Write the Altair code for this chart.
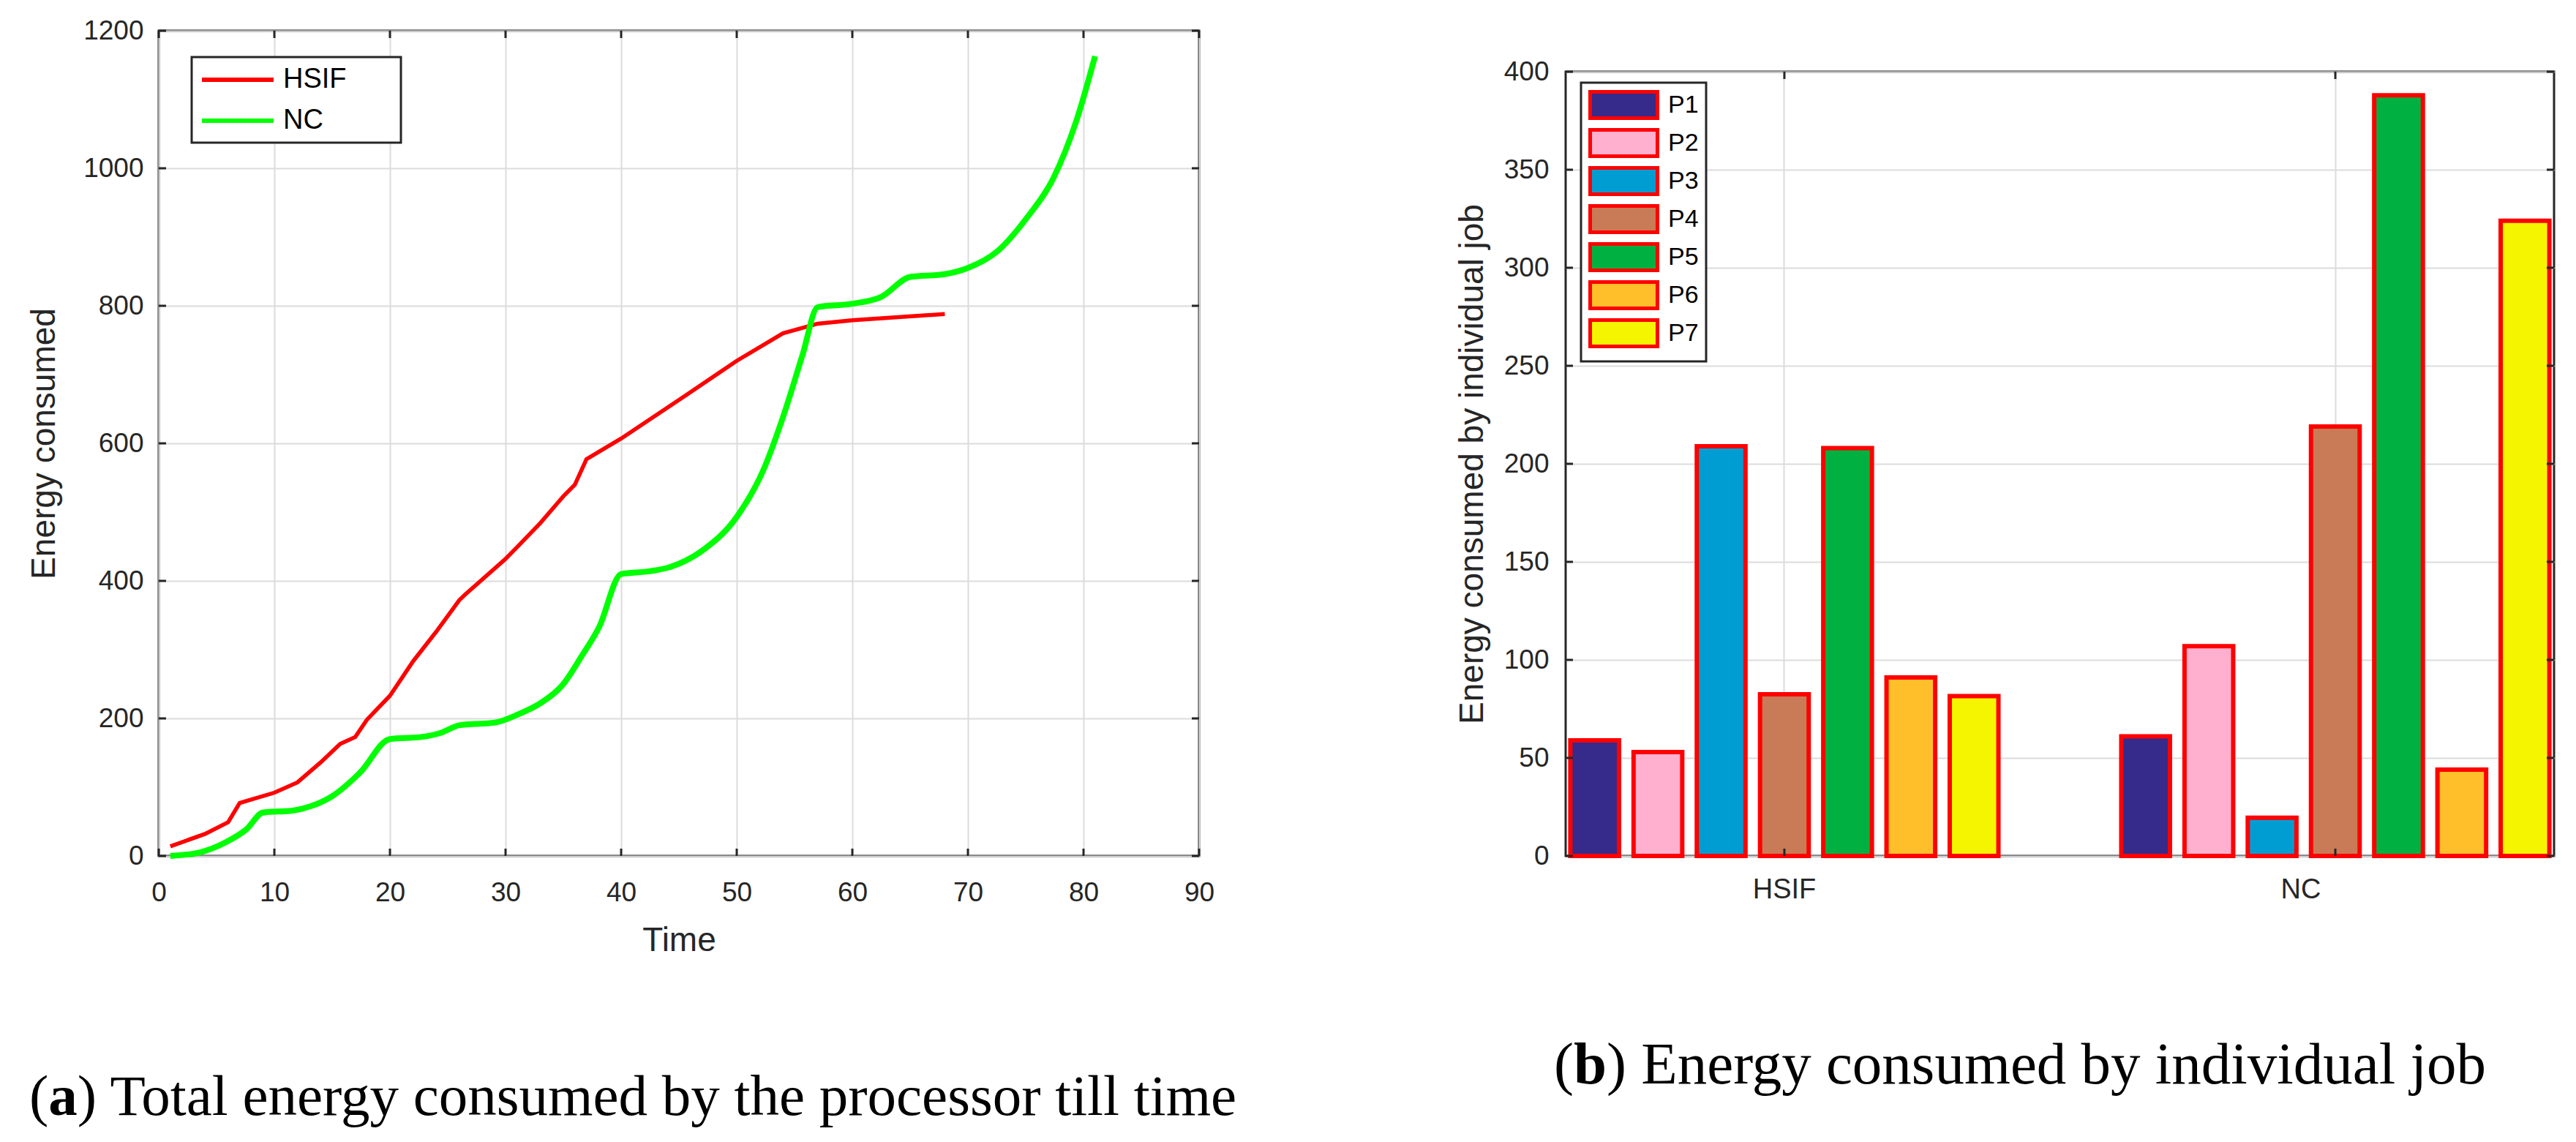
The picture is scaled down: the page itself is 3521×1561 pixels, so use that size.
import altair as alt
import pandas as pd

# ---------------- Panel (a): total energy consumed till time ----------------
series_names = ["HSIF", "NC"]
series_colors = ["#FF0000", "#00FF00"]

hsif_t = [1, 4, 6, 7, 10, 12, 14, 15.7, 17, 18, 20, 22, 24, 26, 26.5, 30, 31, 33, 35, 36, 37,
          40, 45.7, 50, 54, 57, 60, 68]
hsif_e = [14, 32, 49, 77, 92, 107, 136, 163, 173, 198, 233, 283, 326, 372, 380, 432, 449, 484,
          523, 540, 577, 607, 671, 720, 760, 774, 779, 788]

nc_t = [1, 3.5, 5.8, 7.6, 9, 11.6, 13.1, 15.1, 17.4, 20, 22.7, 24.4, 26, 29.1, 31.1, 33.1, 34.9,
        36.6, 38.1, 40, 42.4, 44.2, 47.1, 50, 52.3, 54, 55.7, 57, 60, 62.5, 65, 68, 70, 72.6,
        75.1, 77.4, 79.4, 81]
nc_e = [0, 5, 20, 39, 63, 66, 72, 88, 121, 170, 173, 179, 190, 194, 206, 223, 248, 291, 333, 410,
        414, 420, 445, 493, 561, 638, 729, 798, 803, 813, 842, 846, 855, 880, 928, 986, 1070, 1163]

x_ticks_a = list(range(0, 91, 10))
y_ticks_a = list(range(0, 1201, 200))

caption_a = ") Total energy consumed by the processor till time"

# ---------------- Panel (b): energy consumed by individual job ----------------
schemes = ["HSIF", "NC"]
jobs = ["P1", "P2", "P3", "P4", "P5", "P6", "P7"]
hsif_jobs = [59, 53, 209, 82.5, 208, 91, 81.5]
nc_jobs = [61, 107, 19.5, 219, 388, 44, 324]
job_colors = ["#362A8B", "#FFB0CF", "#009DD3", "#C87B56", "#00B040", "#FFBF2B", "#F5F500"]
y_ticks_b = list(range(0, 401, 50))

caption_b = ") Energy consumed by individual job"

# ---------------- styling ----------------
AX = "#262626"
GRID = "#DCDCDC"
SANS = "Liberation Sans"
SERIF = "Liberation Serif"
W_A, H_A = 1422, 1128
W_B, H_B = 1351, 1072
TICK = 10


def note(text, x, y, size, weight="normal", color="black", font=SERIF,
         align="left", baseline="alphabetic"):
    return alt.Chart(pd.DataFrame({"txt": [text]})).mark_text(
        font=font, fontSize=size, fontWeight=weight, color=color,
        align=align, baseline=baseline,
    ).encode(text="txt:N", x=alt.value(x), y=alt.value(y))


# ---------- panel (a) ----------
hsif_df = pd.DataFrame({"series": ["HSIF"] * len(hsif_t), "t": hsif_t, "e": hsif_e})
nc_df = pd.DataFrame({"series": ["NC"] * len(nc_t), "t": nc_t, "e": nc_e})

xa = alt.X("t:Q", scale=alt.Scale(domain=[0, 90], nice=False, zero=False),
           axis=alt.Axis(values=x_ticks_a, title="Time", grid=True, labelFontSize=37,
                         titleFontSize=46, labelPadding=32, titlePadding=25, format="d"))
ya = alt.Y("e:Q", scale=alt.Scale(domain=[0, 1200], nice=False),
           axis=alt.Axis(values=y_ticks_a, title="Energy consumed", grid=True, format="d",
                         labelFontSize=37, titleFontSize=46, labelPadding=21,
                         titlePadding=29))
# the white, right-hand legend title only widens the legend box as in the reference
color_a = alt.Color(
    "series:N", scale=alt.Scale(domain=series_names, range=series_colors),
    legend=alt.Legend(orient="none", legendX=45, legendY=36, title="MM",
                      titleOrient="right", titleColor="white", titleFontSize=34,
                      titlePadding=6, titleFont=SANS,
                      strokeColor=AX, fillColor="white", padding=11,
                      symbolType="M-1,0H4.76", symbolSize=1156,
                      symbolStrokeWidth=6, labelFontSize=38,
                      labelOffset=74, rowPadding=17))

line_hsif = alt.Chart(hsif_df).mark_line(interpolate="linear", strokeWidth=5.5).encode(
    x=xa, y=ya, color=color_a)
line_nc = alt.Chart(nc_df).mark_line(interpolate="monotone", strokeWidth=8).encode(
    x=xa, y=ya, color=color_a)

xt_df = pd.DataFrame({"t": x_ticks_a})
yt_df = pd.DataFrame({"e": y_ticks_a})
ticks_a = [
    alt.Chart(xt_df).mark_rule(color=AX, strokeWidth=3).encode(
        x=xa, y=alt.value(H_A), y2=alt.value(H_A - TICK)),
    alt.Chart(xt_df).mark_rule(color=AX, strokeWidth=3).encode(
        x=xa, y=alt.value(0), y2=alt.value(TICK)),
    alt.Chart(yt_df).mark_rule(color=AX, strokeWidth=3).encode(
        y=ya, x=alt.value(0), x2=alt.value(TICK)),
    alt.Chart(yt_df).mark_rule(color=AX, strokeWidth=3).encode(
        y=ya, x=alt.value(W_A), x2=alt.value(W_A - TICK)),
]

cap_a = [
    note("(", -177, 1482, 79),
    note("a", -177 + 0.333 * 79, 1482, 79, weight="bold"),
    note(caption_a, -177 + 0.833 * 79, 1482, 79),
]
markers_a = [
    note(".", -200, -30, 4, color="white", baseline="top"),
    note(".", 1523, -30, 4, color="white", align="right", baseline="top"),
]

panel_a = alt.layer(*ticks_a, line_hsif, line_nc, *cap_a, *markers_a).properties(
    width=W_A, height=H_A)

# ---------- panel (b) ----------
bars_df = pd.DataFrame({
    "scheme": [s for s in schemes for _ in jobs],
    "job": jobs * 2,
    "energy": hsif_jobs + nc_jobs,
})

xb_scale = alt.Scale(domain=schemes, paddingInner=0.223, paddingOuter=0.0085)
xb_axis = alt.Axis(title=None, grid=True, labelFontSize=38, labelPadding=27, labelAngle=0,
                   bandPosition=0.5,
                   labelOffset={"condition": {"test": "datum.value === 'NC'", "value": -47},
                                "value": 0})
yb = alt.Y("energy:Q", scale=alt.Scale(domain=[0, 400], nice=False),
           axis=alt.Axis(values=y_ticks_b, title="Energy consumed by individual job",
                         grid=True, labelFontSize=37, titleFontSize=46, labelPadding=23,
                         titlePadding=19, format="d"))

bars = alt.Chart(bars_df).mark_bar(stroke="#FF0000", strokeWidth=6, opacity=1).encode(
    x=alt.X("scheme:N", scale=xb_scale, axis=xb_axis, sort=schemes),
    xOffset=alt.XOffset("job:N", scale=alt.Scale(domain=jobs, paddingInner=0.23,
                                                  paddingOuter=0)),
    y=yb,
    fill=alt.Fill("job:N", scale=alt.Scale(domain=jobs, range=job_colors),
                  legend=alt.Legend(orient="none", legendX=21, legendY=15, title=None,
                                    strokeColor=AX, fillColor="white", padding=10,
                                    symbolType="M-1,-1H4.11V1H-1Z", symbolSize=1296,
                                    symbolStrokeColor="#FF0000", symbolStrokeWidth=5,
                                    labelFontSize=34, labelOffset=68, rowPadding=-5)),
)

xbt_df = pd.DataFrame({"scheme": schemes})
ybt_df = pd.DataFrame({"energy": y_ticks_b})
xb_tick = alt.X("scheme:N", scale=xb_scale, axis=xb_axis, sort=schemes, bandPosition=0.5)
ticks_b = [
    alt.Chart(xbt_df).mark_rule(color=AX, strokeWidth=3).encode(
        x=xb_tick, y=alt.value(H_B), y2=alt.value(H_B - TICK)),
    alt.Chart(xbt_df).mark_rule(color=AX, strokeWidth=3).encode(
        x=xb_tick, y=alt.value(0), y2=alt.value(TICK)),
    alt.Chart(ybt_df).mark_rule(color=AX, strokeWidth=3).encode(
        y=yb, x=alt.value(0), x2=alt.value(TICK)),
    alt.Chart(ybt_df).mark_rule(color=AX, strokeWidth=3).encode(
        y=yb, x=alt.value(W_B), x2=alt.value(W_B - TICK)),
]

cap_b = [
    note("(", -16, 1383, 81),
    note("b", -16 + 0.333 * 81, 1383, 81, weight="bold"),
    note(caption_b, -16 + 0.889 * 81, 1383, 81),
]
markers_b = [note(".", -175, -25, 4, color="white", baseline="top")]

panel_b = alt.layer(bars, *ticks_b, *cap_b, *markers_b).properties(width=W_B, height=H_B)

# small invisible spacer that drops panel (b) below the top of panel (a)
spacer = alt.Chart(pd.DataFrame({"v": [0]})).mark_point(size=1, opacity=0).encode(
    x=alt.value(0), y=alt.value(5)
).properties(width=1, height=10,
             view=alt.ViewBackground(stroke="transparent", strokeWidth=0))

right = alt.vconcat(spacer, panel_b, spacing=19).resolve_legend(fill="independent")

chart = alt.hconcat(panel_a, right, spacing=221).resolve_legend(
    color="independent", fill="independent"
).properties(
    padding={"left": 7, "top": 2, "right": 0, "bottom": 0},
    background="white",
).configure_view(
    stroke=AX, strokeWidth=3
).configure_axis(
    labelFont=SANS, titleFont=SANS, labelColor=AX, titleColor=AX,
    titleFontWeight="normal", gridColor=GRID, gridWidth=2, domain=False,
    ticks=False, tickSize=0, labelFlush=False,
).configure_legend(
    strokeWidth=3, labelFont=SANS, labelColor="black", cornerRadius=0,
)

chart.save("out.html", embed_options={"renderer": "svg", "actions": False})
